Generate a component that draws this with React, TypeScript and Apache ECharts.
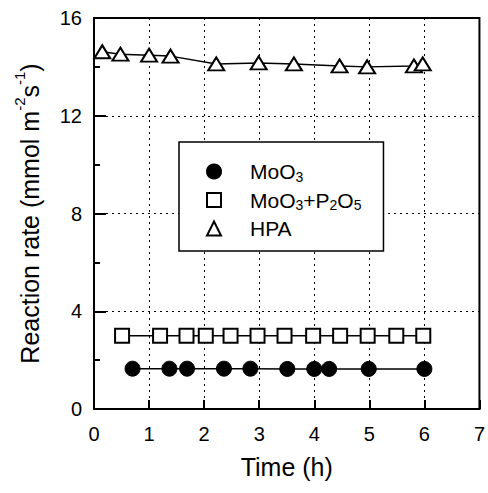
import React, { useEffect, useRef } from "react";
import * as echarts from "echarts";

const moo3X = [0.7, 1.37, 1.69, 2.36, 2.84, 3.51, 4.0, 4.27, 4.99, 6.0];
const moo3Y = [1.65, 1.65, 1.65, 1.65, 1.65, 1.64, 1.64, 1.64, 1.64, 1.64];
const mpX = [0.51, 1.2, 1.68, 2.03, 2.48, 2.97, 3.46, 3.98, 4.47, 4.97, 5.49, 5.98];
const mpY = [3.0, 3.0, 3.0, 3.0, 3.0, 3.0, 3.0, 3.0, 3.0, 3.0, 3.0, 3.0];
const hpaX = [0.15, 0.48, 1.0, 1.39, 2.22, 2.99, 3.63, 4.46, 4.96, 5.81, 5.97];
const hpaY = [14.62, 14.52, 14.48, 14.44, 14.12, 14.16, 14.12, 14.04, 14.0, 14.04, 14.12];
const seriesNames = ["MoO3", "MoO3+P2O5", "HPA"];
const legendRich: Record<string, string> = {
  "MoO3": "{n|MoO}{s|3}",
  "MoO3+P2O5": "{n|MoO}{s|3}{n|+P}{s|2}{n|O}{s|5}",
  "HPA": "{n|HPA}",
};

const FONT = "'Liberation Sans', Arial, sans-serif";

function pairs(xs: number[], ys: number[]) {
  return xs.map((x, i) => [x, ys[i]]);
}

export default function App() {
  const ref = useRef<HTMLDivElement>(null);
  useEffect(() => {
    if (!ref.current) return;
    const chart = echarts.init(ref.current, undefined, { renderer: "svg" });
    const black = "#000";
    chart.setOption({
      animation: false,
      backgroundColor: "#fff",
      textStyle: { fontFamily: FONT, color: black },
      grid: {
        left: 94,
        right: 8,
        top: 18,
        bottom: 84,
        show: true,
        borderColor: black,
        borderWidth: 2,
        backgroundColor: "transparent",
      },
      legend: {
        orient: "vertical",
        left: 179,
        top: 142,
        data: [
          { name: seriesNames[0], icon: "circle" },
          { name: seriesNames[1], icon: "rect" },
          { name: seriesNames[2], icon: "triangle" },
        ],
        itemWidth: 14,
        itemHeight: 14,
        itemGap: 6,
        padding: [19, 22, 12, 27],
        backgroundColor: "#fff",
        borderColor: black,
        borderWidth: 1.5,
        borderRadius: 0,
        z: 10,
        formatter: (name: string) => legendRich[name],
        textStyle: {
          fontFamily: FONT,
          color: black,
          padding: [0, 0, 0, 24],
          rich: {
            n: { fontSize: 21, lineHeight: 24, fontFamily: FONT, color: black },
            s: { fontSize: 14, lineHeight: 2, verticalAlign: "bottom", fontFamily: FONT, color: black },
          },
        },
      },
      xAxis: {
        type: "value",
        min: 0,
        max: 7,
        interval: 1,
        name: "Time (h)",
        nameLocation: "middle",
        nameGap: 45,
        nameTextStyle: { fontSize: 25, fontFamily: FONT, color: black },
        axisLine: { show: true, lineStyle: { color: black, width: 2 } },
        axisTick: { show: true, inside: true, length: 9, lineStyle: { color: black, width: 2 } },
        axisLabel: { fontSize: 20, margin: 15, color: black, fontFamily: FONT },
        splitLine: { show: true, lineStyle: { color: black, type: [2, 4], width: 1 } },
      },
      yAxis: {
        type: "value",
        min: 0,
        max: 16,
        interval: 4,
        name: "{n|Reaction rate (mmol m}{u|-2}{n|s}{u|-1}{n|)}",
        nameLocation: "middle",
        nameGap: 46,
        nameTextStyle: {
          fontFamily: FONT,
          color: black,
          rich: {
            n: { fontSize: 25, lineHeight: 36, fontFamily: FONT, color: black },
            u: { fontSize: 15, lineHeight: 4, verticalAlign: "top", fontFamily: FONT, color: black },
          },
        },
        axisLine: { show: true, lineStyle: { color: black, width: 2 } },
        axisTick: { show: true, inside: true, length: 12, lineStyle: { color: black, width: 2 } },
        minorTick: { show: true, splitNumber: 2, length: 6, lineStyle: { color: black, width: 2 } },
        axisLabel: { fontSize: 20, margin: 12, color: black, fontFamily: FONT },
        splitLine: { show: true, lineStyle: { color: black, type: [2, 4], width: 1 } },
      },
      series: [
        {
          name: seriesNames[0],
          type: "line",
          data: pairs(moo3X, moo3Y),
          symbol: "circle",
          symbolSize: 15,
          lineStyle: { color: black, width: 1.5 },
          itemStyle: { color: black, borderColor: black, borderWidth: 1 },
          z: 3,
        },
        {
          name: seriesNames[1],
          type: "line",
          data: pairs(mpX, mpY),
          symbol: "rect",
          symbolSize: 14,
          lineStyle: { color: black, width: 1.5 },
          itemStyle: { color: "#fff", borderColor: black, borderWidth: 2 },
          z: 3,
        },
        {
          name: seriesNames[2],
          type: "line",
          data: pairs(hpaX, hpaY),
          symbol: "triangle",
          symbolSize: [16, 13],
          lineStyle: { color: black, width: 1.5 },
          itemStyle: { color: "#fff", borderColor: black, borderWidth: 2 },
          z: 3,
        },
      ],
    });
    return () => chart.dispose();
  }, []);
  return (
    <div
      ref={ref}
      style={{ position: "fixed", left: 0, top: 0, width: 488, height: 493 }}
    />
  );
}
